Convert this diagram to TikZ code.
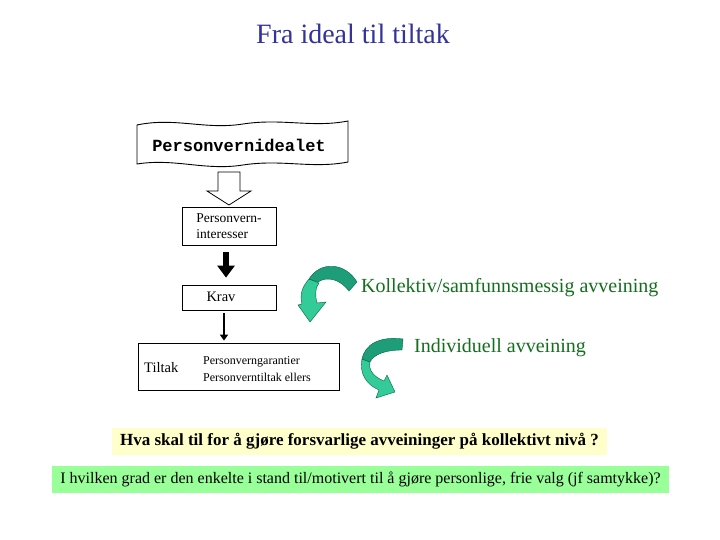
\documentclass[tikz,border=0pt]{standalone}
\usepackage{fontspec}
\setmainfont{Liberation Serif}
\newfontfamily\monob{Liberation Mono}
\usetikzlibrary{arrows.meta,calc}
\definecolor{titleblue}{RGB}{51,51,153}
\definecolor{txtgreen}{RGB}{20,110,30}
\definecolor{ribdark}{RGB}{30,158,120}
\definecolor{riblight}{RGB}{51,204,153}
\definecolor{ribline}{RGB}{0,100,70}
\definecolor{yellowbg}{RGB}{255,255,204}
\definecolor{greenbg}{RGB}{153,255,153}
\tikzset{
  boxnode/.style={draw=black, line width=0.8pt, inner sep=0pt},
  plaintext/.style={inner sep=0pt, font=\fontsize{14.5}{16}\selectfont},
  greentext/.style={inner sep=0pt, text=txtgreen, font=\fontsize{20}{22}\selectfont},
  ribbondark/.style={fill=ribdark, draw=ribline, line width=0.4pt},
  ribbonlight/.style={fill=riblight, draw=ribline, line width=0.4pt},
}
\begin{document}
\begin{tikzpicture}[x=1pt,y=-1pt]
\useasboundingbox (0,0) rectangle (720,540);
\fill[white] (0,0) rectangle (720,540);

% title
\node[inner sep=0pt, text=titleblue, font=\fontsize{28}{32}\selectfont] (title) at (353,34) {Fra ideal til tiltak};

% wave banner
\draw[line width=0.9pt, fill=white]
  (137,125) .. controls (175,117) and (205,130) .. (243,124)
            .. controls (282,118) and (312,128) .. (348,121)
  -- (348,162)
            .. controls (312,169) and (282,159) .. (243,165)
            .. controls (205,171) and (175,158) .. (137,164)
  -- cycle;
\node[inner sep=0pt, font=\monob\bfseries\fontsize{17}{18}\selectfont] (banner) at (239,145) {Personvernidealet};

% boxes
\node[boxnode, minimum width=94pt, minimum height=38pt, align=left, font=\fontsize{13.5}{16}\selectfont] (pi) at (229,226) {Personvern-\\interesser};
\node[boxnode, minimum width=94pt, minimum height=25pt] (krav) at (229,297.5) {};
\node[plaintext] (kravt) at (221,297) {Krav};
\node[boxnode, minimum width=201pt, minimum height=47pt] (tiltak) at (238.5,366.5) {};
\node[plaintext, anchor=west] (tiltakt) at (144,368) {Tiltak};
\node[inner sep=0pt, anchor=west, align=left, font=\fontsize{12}{17}\selectfont] (tiltakg) at (203,369) {Personverngarantier\\Personverntiltak ellers};

% hollow arrow
\draw[line width=0.8pt, fill=white]
  (218,172) -- (240,172) -- (240,191) -- (251,191) -- (229,205) -- (207,191) -- (218,191) -- cycle;

% thick black arrow
\draw[line width=6pt, -{Triangle[width=17pt,length=12pt]}]
  ($(pi.south)+(-3,7)$) -- ($(krav.north)+(-3,-7)$);

% thin arrow
\draw[line width=2.2pt, -{Triangle[width=8pt,length=6pt]}]
  ($(krav.south)+(-5,3)$) -- ($(tiltak.north -| krav.south)+(-5,-2)$);

% curved ribbon arrow 1
\draw[ribbonlight]
  (309,279) .. controls (301,288) and (300,296) .. (302,304)
  -- (298,305) -- (310,322) -- (326,302) -- (317,303)
  .. controls (315,295) and (315,288) .. (319,283) -- cycle;
\draw[ribbondark]
  (357,282) .. controls (345,262) and (320,261) .. (309,279)
  -- (318,282) .. controls (327,276) and (340,279) .. (349,291) -- cycle;

% curved ribbon arrow 2
\draw[ribbonlight]
  (362,359) .. controls (359,374) and (367,385) .. (379,390)
  -- (376,398) -- (395,392) -- (387,375) -- (384,381)
  .. controls (374,377) and (368,370) .. (370,362) -- cycle;
\draw[ribbondark]
  (403,339) .. controls (380,336) and (365,344) .. (362,359)
  -- (370,362) .. controls (374,354) and (386,350) .. (402,350) -- cycle;

% green labels
\node[greentext, anchor=west] (kol) at (361,288) {Kollektiv/samfunnsmessig avveining};
\node[greentext, anchor=west] (ind) at (414,348) {Individuell avveining};

% question boxes
\node[fill=yellowbg, inner sep=0pt, minimum width=495pt, minimum height=27pt, font=\bfseries\fontsize{17}{18}\selectfont] (q1) at (359.5,441.5) {Hva skal til for å gjøre forsvarlige avveininger på kollektivt nivå ?};
\node[fill=greenbg, inner sep=0pt, minimum width=617pt, minimum height=27pt, font=\fontsize{16}{18}\selectfont] (q2) at (360.5,479.5) {I hvilken grad er den enkelte i stand til/motivert til å gjøre personlige, frie valg (jf samtykke)?};
\end{tikzpicture}
\end{document}
